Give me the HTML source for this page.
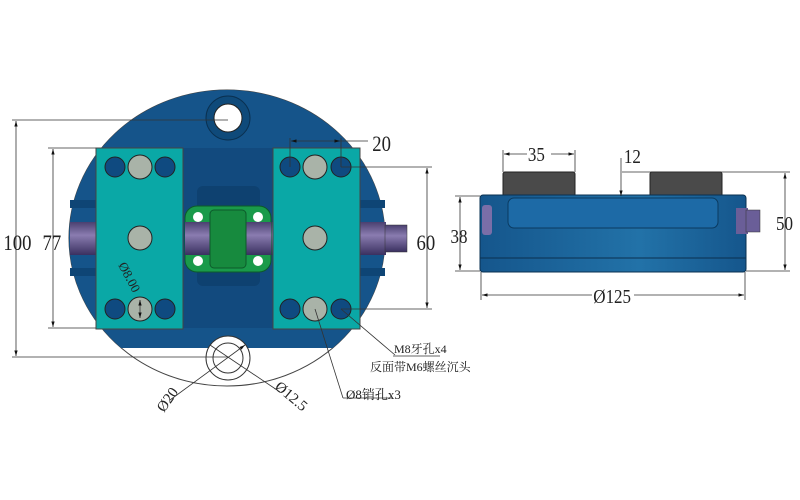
<!DOCTYPE html>
<html><head><meta charset="utf-8"><style>
html,body{margin:0;padding:0;background:#fff;width:800px;height:500px;overflow:hidden}
svg{display:block}
text{font-family:"Liberation Serif","Noto Serif CJK SC",serif;fill:#222}
</style></head><body>
<svg width="800" height="500" viewBox="0 0 800 500">
<defs>
<linearGradient id="sh" x1="0" y1="0" x2="0" y2="1"><stop offset="0" stop-color="#4a4070"/><stop offset=".4" stop-color="#8a7cb0"/><stop offset="1" stop-color="#3a3060"/></linearGradient>
<linearGradient id="bd" x1="0" y1="0" x2="1" y2="0"><stop offset="0" stop-color="#15568c"/><stop offset=".6" stop-color="#2272a8"/><stop offset="1" stop-color="#15568c"/></linearGradient>
<marker id="a" viewBox="0 0 10 10" refX="10" refY="5" markerWidth="7" markerHeight="7" orient="auto-start-reverse"><path d="M0,2L10,5L0,8z" fill="#111"/></marker>
</defs>
<ellipse cx="227" cy="238" rx="158" ry="148" fill="#fff" stroke="#444" stroke-width="1"/>
<clipPath id="c1"><rect x="60" y="80" width="340" height="268"/></clipPath>
<ellipse cx="227" cy="238" rx="158" ry="148" fill="#15548a" clip-path="url(#c1)"/>
<rect x="70" y="200" width="315" height="8" fill="#0e4575"/>
<rect x="70" y="268" width="315" height="8" fill="#0e4575"/>
<circle cx="228" cy="118" r="22" fill="#0f4a7a" stroke="#0a3050"/>
<circle cx="228" cy="118" r="14" fill="#fff" stroke="#222"/>
<circle cx="228" cy="358" r="22" fill="#fff" stroke="#333"/>
<circle cx="228" cy="358" r="15" fill="#fff" stroke="#333"/>
<rect x="183" y="148" width="90" height="180" fill="#124a7e"/>
<rect x="197" y="186" width="63" height="100" rx="6" fill="#0e4170"/>
<rect x="70" y="222" width="28" height="33" fill="url(#sh)"/>
<rect x="359" y="222" width="27" height="33" fill="url(#sh)"/>
<rect x="385" y="225" width="22" height="27" fill="url(#sh)" stroke="#333" stroke-width=".5"/>
<rect x="185" y="222" width="88" height="33" fill="url(#sh)"/>
<rect x="185" y="206" width="86" height="66" rx="12" fill="#1a9a4a" stroke="#0c5a2a"/>
<circle cx="198" cy="217" r="5" fill="#fff"/><circle cx="258" cy="217" r="5" fill="#fff"/>
<circle cx="198" cy="261" r="5" fill="#fff"/><circle cx="258" cy="261" r="5" fill="#fff"/>
<rect x="185" y="222" width="25" height="33" fill="url(#sh)"/>
<rect x="246" y="222" width="25" height="33" fill="url(#sh)"/>
<rect x="210" y="210" width="36" height="58" rx="4" fill="#178a3e" stroke="#0c5a2a"/>
<rect x="96" y="148" width="87" height="181" fill="#0aa8a6" stroke="#444"/>
<rect x="273" y="148" width="87" height="181" fill="#0aa8a6" stroke="#444"/>
<g stroke="#222" stroke-width="1">
<circle cx="115" cy="167" r="10" fill="#0f4a80"/><circle cx="140" cy="167" r="12" fill="#a9b3a8"/><circle cx="165" cy="167" r="10" fill="#0f4a80"/>
<circle cx="115" cy="309" r="10" fill="#0f4a80"/><circle cx="140" cy="309" r="12" fill="#a9b3a8"/><circle cx="165" cy="309" r="10" fill="#0f4a80"/>
<circle cx="140" cy="238" r="12" fill="#a9b3a8"/>
<circle cx="290" cy="167" r="10" fill="#0f4a80"/><circle cx="315" cy="167" r="12" fill="#a9b3a8"/><circle cx="341" cy="167" r="10" fill="#0f4a80"/>
<circle cx="290" cy="309" r="10" fill="#0f4a80"/><circle cx="315" cy="309" r="12" fill="#a9b3a8"/><circle cx="341" cy="309" r="10" fill="#0f4a80"/>
<circle cx="315" cy="238" r="12" fill="#a9b3a8"/>
</g>
<g stroke="#333" stroke-width=".8" fill="none">
<line x1="12" y1="120" x2="228" y2="120"/><line x1="12" y1="357" x2="228" y2="357"/>
<line x1="16" y1="121" x2="16" y2="356" marker-start="url(#a)" marker-end="url(#a)"/>
<line x1="48" y1="148" x2="96" y2="148"/><line x1="48" y1="328" x2="96" y2="328"/>
<line x1="53" y1="149" x2="53" y2="327" marker-start="url(#a)" marker-end="url(#a)"/>
<line x1="341" y1="167" x2="432" y2="167"/><line x1="341" y1="309" x2="432" y2="309"/>
<line x1="427" y1="168" x2="427" y2="308" marker-start="url(#a)" marker-end="url(#a)"/>
<line x1="290" y1="138" x2="290" y2="167"/><line x1="341" y1="138" x2="341" y2="167"/>
<line x1="291" y1="141" x2="340" y2="141" marker-start="url(#a)" marker-end="url(#a)"/>
<line x1="340" y1="141" x2="368" y2="141"/>
<line x1="140" y1="300" x2="140" y2="318" marker-start="url(#a)" marker-end="url(#a)"/>
<line x1="341" y1="309" x2="395" y2="355"/><line x1="393" y1="356" x2="440" y2="356"/>
<line x1="315" y1="309" x2="343" y2="398"/><line x1="343" y1="398" x2="392" y2="398"/>
<line x1="170" y1="400" x2="245" y2="345" marker-end="url(#a)"/>
<line x1="210" y1="345" x2="280" y2="392"/>
</g>
<g font-size="22" transform="scale(0.85,1)">
<text x="4" y="250">100</text>
<text x="50" y="250">77</text>
<text x="490" y="250">60</text>
<text x="438" y="151">20</text>
</g>
<text x="118" y="265" font-size="13" transform="rotate(62 118 265)">Ø8.00</text>
<text x="394" y="353" font-size="12">M8牙孔x4</text>
<text x="370" y="371" font-size="12">反面带M6螺丝沉头</text>
<text x="346" y="399" font-size="13">Ø8销孔x3</text>
<text x="164" y="413" font-size="15" transform="rotate(-55 164 413)">Ø20</text>
<text x="274" y="388" font-size="15" transform="rotate(40 274 388)">Ø12.5</text>
<rect x="503" y="172" width="72" height="25" rx="2" fill="#4a4a4a" stroke="#222"/>
<rect x="650" y="172" width="72" height="25" rx="2" fill="#4a4a4a" stroke="#222"/>
<rect x="480" y="195" width="266" height="77" rx="3" fill="url(#bd)" stroke="#0a3050"/>
<rect x="508" y="198" width="210" height="30" rx="6" fill="#1d6aa6" stroke="#0a3a60"/>
<line x1="480" y1="258" x2="746" y2="258" stroke="#0a3050"/>
<rect x="482" y="205" width="10" height="30" rx="3" fill="#7a6ea8"/>
<rect x="736" y="208" width="12" height="26" fill="#6a5e98"/>
<rect x="746" y="210" width="14" height="22" fill="#6a5e98" stroke="#333" stroke-width=".5"/>
<g stroke="#333" stroke-width=".8" fill="none">
<line x1="503" y1="150" x2="503" y2="172"/><line x1="575" y1="150" x2="575" y2="172"/>
<line x1="504" y1="154" x2="574" y2="154" marker-start="url(#a)" marker-end="url(#a)"/>
<line x1="621" y1="158" x2="621" y2="196" marker-end="url(#a)"/>
<line x1="622" y1="172" x2="790" y2="172"/><line x1="746" y1="271" x2="790" y2="271"/>
<line x1="785" y1="173" x2="785" y2="270" marker-start="url(#a)" marker-end="url(#a)"/>
<line x1="455" y1="196" x2="480" y2="196"/><line x1="455" y1="271" x2="480" y2="271"/>
<line x1="460" y1="197" x2="460" y2="270" marker-start="url(#a)" marker-end="url(#a)"/>
<line x1="481" y1="272" x2="481" y2="300"/><line x1="745" y1="272" x2="745" y2="300"/>
<line x1="482" y1="295" x2="744" y2="295" marker-start="url(#a)" marker-end="url(#a)"/>
</g>
<rect x="592" y="285" width="42" height="18" fill="#fff"/>
<rect x="527" y="145" width="24" height="16" fill="#fff"/>
<g font-size="20" transform="scale(0.85,1)">
<text x="621" y="161">35</text>
<text x="734" y="163">12</text>
<text x="530" y="243">38</text>
<text x="913" y="230">50</text>
<text x="698" y="303">Ø125</text>
</g>
</svg>
</body></html>
